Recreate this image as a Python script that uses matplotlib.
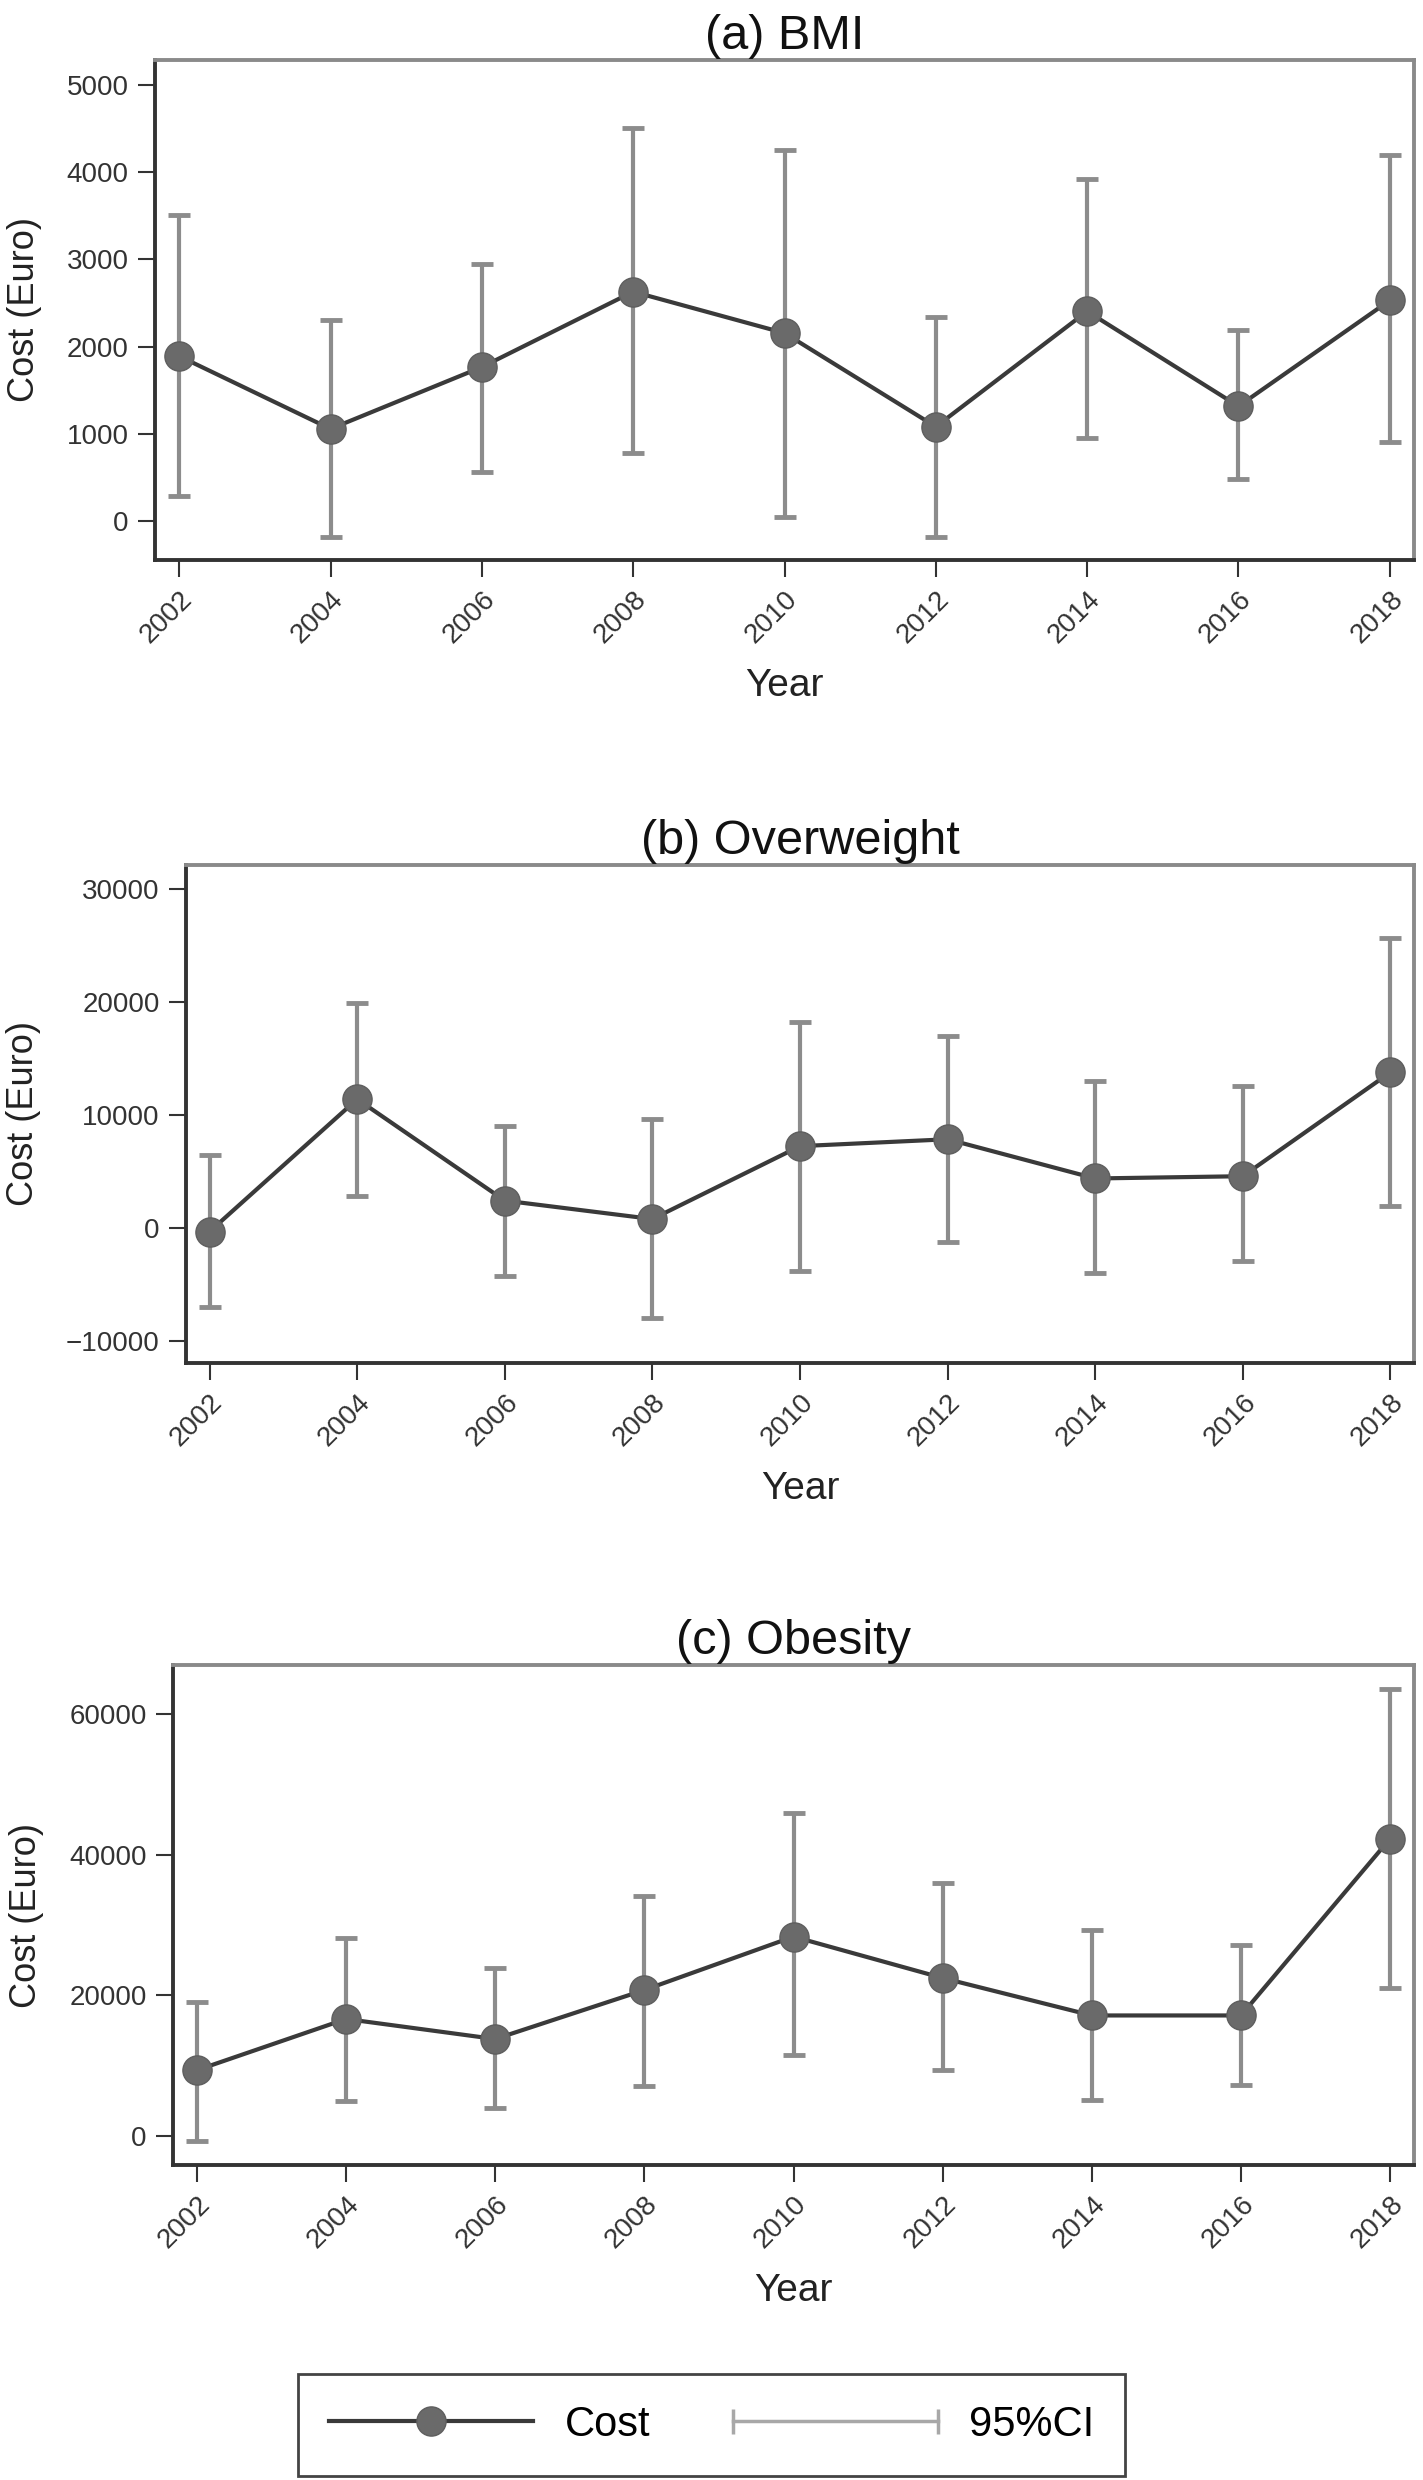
import matplotlib
matplotlib.use("Agg")
import matplotlib.pyplot as plt
from matplotlib.lines import Line2D
from matplotlib.legend_handler import HandlerLine2D
import numpy as np

plt.rcParams["font.family"] = ["Liberation Sans", "DejaVu Sans"]

years = [2002, 2004, 2006, 2008, 2010, 2012, 2014, 2016, 2018]

# (a) BMI
bmi_cost = [1890, 1055, 1765, 2630, 2155, 1080, 2405, 1315, 2530]
bmi_lo = [280, -185, 555, 775, 40, -185, 945, 475, 905]
bmi_hi = [3510, 2305, 2945, 4510, 4260, 2340, 3920, 2185, 4195]

# (b) Overweight
ow_cost = [-290, 11430, 2450, 820, 7270, 7880, 4410, 4610, 13800]
ow_lo = [-6940, 2860, -4250, -7920, -3760, -1220, -3960, -2860, 1960]
ow_hi = [6530, 19920, 9060, 9710, 18290, 16980, 13060, 12570, 25710]

# (c) Obesity
ob_cost = [9370, 16650, 13800, 20760, 28350, 22470, 17150, 17150, 42280]
ob_lo = [-760, 4940, 3990, 7150, 11460, 9370, 5130, 7280, 21080]
ob_hi = [19050, 28170, 23920, 34180, 45890, 35950, 29300, 27220, 63610]

titles = ["(a) BMI", "(b) Overweight", "(c) Obesity"]
yticks = [np.arange(0, 5001, 1000), np.arange(-10000, 30001, 10000), np.arange(0, 60001, 20000)]
ylims = [(-450, 5290), (-11920, 32150), (-4100, 66950)]

LINE_C = "#3a3a3a"
MARK_C = "#6a6a6a"
CI_C = "#8c8c8c"
AXIS_C = "#333333"
BOX_C = "#8a8a8a"

W, H = 1423, 2480
# axes boxes in pixels: left, top, bottom (right edge shared)
boxes = [(155, 60, 560), (186, 865, 1363), (173, 1665, 2165)]
RIGHT = 1414


def draw_panel(ax, cost, lo, hi, title, ticks, ylim):
    """Draw one cost panel with its 95% CI caps."""
    cost = np.array(cost)
    err = [cost - np.array(lo), np.array(hi) - cost]
    ax.errorbar(years, cost, yerr=err, fmt="none", ecolor=CI_C,
                elinewidth=3, capsize=8, capthick=3.5, zorder=2)
    ax.plot(years, cost, "-o", color=LINE_C, lw=3, marker="o",
            markersize=21, markerfacecolor=MARK_C, markeredgecolor="#5e5e5e",
            markeredgewidth=1, zorder=3)

    ax.set_xlim(2001.68, 2018.32)
    ax.set_ylim(*ylim)
    ax.set_xticks(years)
    ax.set_xticklabels([str(y) for y in years], rotation=45, ha="right",
                       rotation_mode="anchor")
    ax.set_yticks(ticks)
    ax.tick_params(axis="both", length=12, width=1.5, colors=AXIS_C,
                   labelsize=20, pad=7)

    ax.set_title(title, fontsize=35, pad=8, color="#111111")
    ax.set_ylabel("Cost (Euro)", fontsize=26, labelpad=18, color="#222222")
    ax.set_xlabel("Year", fontsize=28, labelpad=14, color="#222222")

    for side in ["left", "bottom"]:
        ax.spines[side].set_color(AXIS_C)
        ax.spines[side].set_linewidth(2.8)
    for side in ["top", "right"]:
        ax.spines[side].set_color(BOX_C)
        ax.spines[side].set_linewidth(2.8)


def main():
    fig = plt.figure(figsize=(W / 100, H / 100), dpi=100)
    fig.patch.set_facecolor("white")

    series = [(bmi_cost, bmi_lo, bmi_hi), (ow_cost, ow_lo, ow_hi), (ob_cost, ob_lo, ob_hi)]
    for i, (left, top, bottom) in enumerate(boxes):
        ax = fig.add_axes([left / W, 1 - bottom / H, (RIGHT - left) / W, (bottom - top) / H])
        cost, lo, hi = series[i]
        draw_panel(ax, cost, lo, hi, titles[i], yticks[i], ylims[i])

    cost_handle = Line2D([], [], color=LINE_C, lw=3, marker="o", markersize=21,
                         markerfacecolor=MARK_C, markeredgecolor="#5e5e5e")
    ci_handle = Line2D([], [], color="#a8a8a8", lw=2.5, marker="|",
                       markersize=18, markeredgewidth=2.5)
    leg = fig.legend([cost_handle, ci_handle], ["Cost", "95%CI"],
                     loc="center", bbox_to_anchor=(0.5, 1 - 2425 / H),
                     ncol=2, fontsize=30, frameon=True, fancybox=False,
                     edgecolor="#444444", framealpha=1, handlelength=4.9,
                     handletextpad=0.75, columnspacing=2.0, borderpad=0.75,
                     handler_map={cost_handle: HandlerLine2D(numpoints=1),
                                  ci_handle: HandlerLine2D(numpoints=2, marker_pad=0)})
    leg.get_frame().set_linewidth(2)

    fig.savefig("out.png", dpi=100)


if __name__ == "__main__":
    main()
